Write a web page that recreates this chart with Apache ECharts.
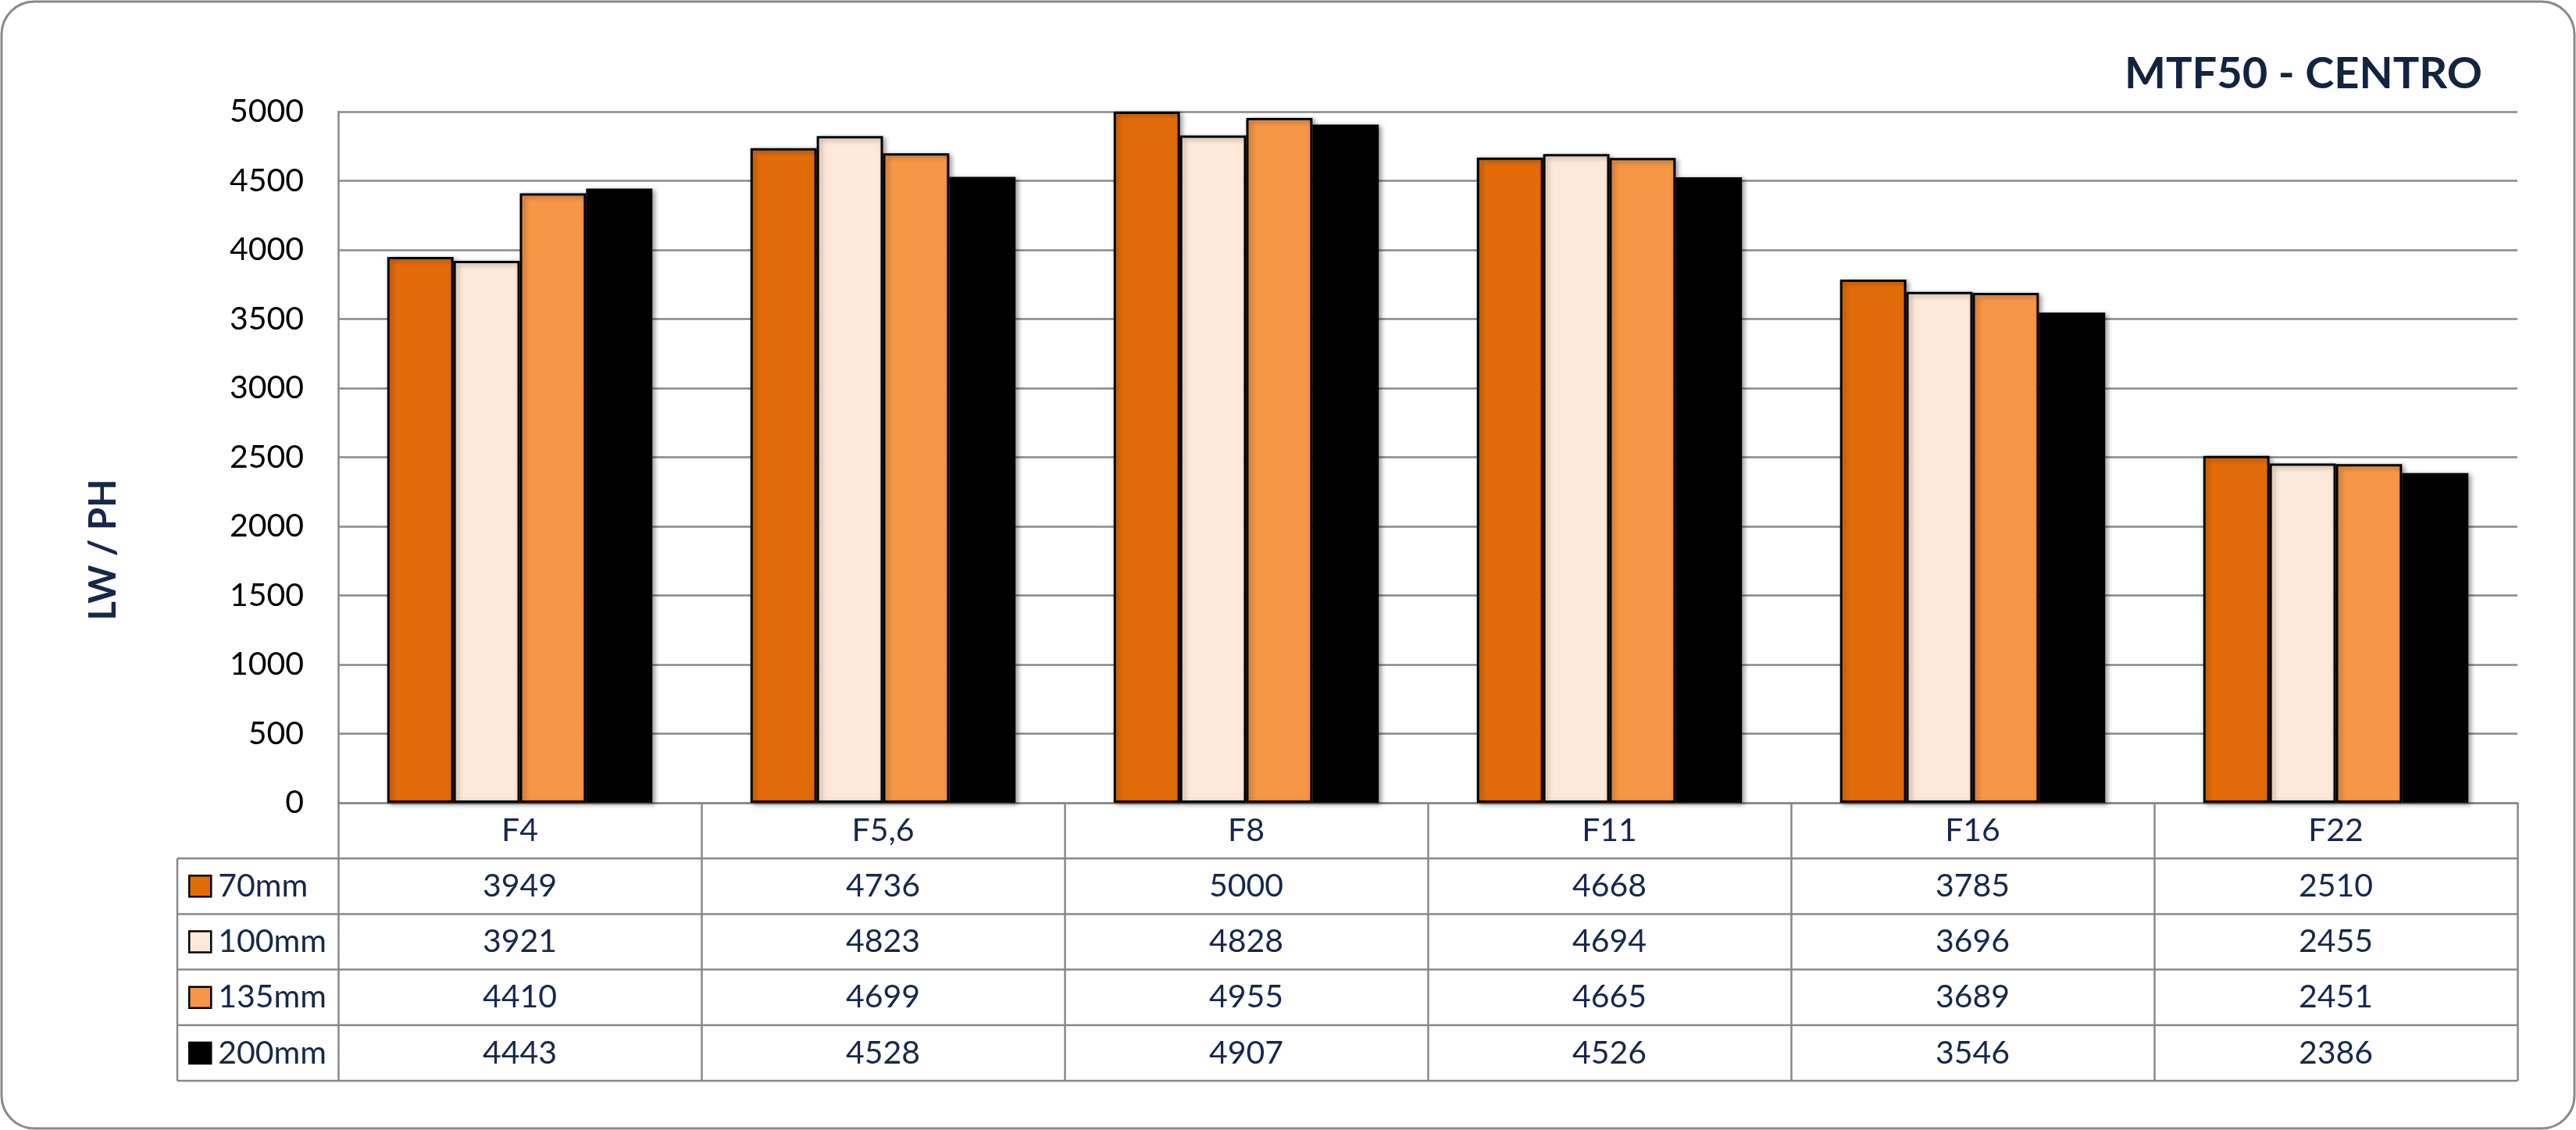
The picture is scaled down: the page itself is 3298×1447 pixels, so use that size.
<!DOCTYPE html>
<html><head><meta charset="utf-8">
<script src="https://cdn.jsdelivr.net/npm/echarts@6/dist/echarts.min.js"></script>
<style>html,body{margin:0;padding:0;background:#fff}#c{width:3298px;height:1447px}</style>
</head><body><div id="c"></div>
<script>
// ---- data ----
const categories = ['F4', 'F5,6', 'F8', 'F11', 'F16', 'F22'];
const seriesNames = ['70mm', '100mm', '135mm', '200mm'];
const v70mm  = [3949, 4736, 5000, 4668, 3785, 2510];
const v100mm = [3921, 4823, 4828, 4694, 3696, 2455];
const v135mm = [4410, 4699, 4955, 4665, 3689, 2451];
const v200mm = [4443, 4528, 4907, 4526, 3546, 2386];
const yMin = 0, yMax = 5000, yStep = 500;
const titleText = 'MTF50 - CENTRO';
const yName = 'LW / PH';

// ---- style / layout ----
const seriesValues = [v70mm, v100mm, v135mm, v200mm];
const colors = ['#E36C0A', '#FDE9D9', '#F79646', '#000000'];
const FONT = 'Lato, "Open Sans", sans-serif';
const NAVY = '#17284A';
const GRAY = '#898989';
const W = 3298, H = 1447;
const gLeft = 433, gRight = 3223, gTop = 143, gBottom = 1028;
const rowH = 71.2;
const legendLeft = 227;
const FS = 41;

const chart = echarts.init(document.getElementById('c'));

const option = {
  animation: false,
  backgroundColor: '#fff',
  title: {
    text: titleText, right: W - 3183, top: 62,
    textStyle: { fontFamily: FONT, fontWeight: 'bold', fontSize: 56, color: '#12243F' }
  },
  legend: {
    orient: 'vertical', left: 241, top: gBottom + rowH + (rowH - FS) / 2, padding: 0,
    itemWidth: 28, itemHeight: 27, itemGap: rowH - FS,
    icon: 'rect', selectedMode: false,
    itemStyle: { borderColor: '#000', borderWidth: 2.5 },
    textStyle: { fontFamily: FONT, fontSize: FS, color: NAVY, padding: [0, 0, 0, 4] },
    data: seriesNames
  },
  grid: { left: gLeft, right: W - gRight, top: gTop, bottom: H - gBottom, containLabel: false },
  xAxis: {
    type: 'category', data: categories,
    axisLine: { show: true, lineStyle: { color: GRAY, width: 2.5 } },
    axisTick: { show: true, interval: 0, length: rowH * 5, lineStyle: { color: GRAY, width: 2.5 } },
    axisLabel: { interval: 0, margin: rowH / 2, verticalAlign: 'middle', fontFamily: FONT, fontSize: FS, color: NAVY },
    splitLine: { show: false }
  },
  yAxis: {
    type: 'value', min: yMin, max: yMax, interval: yStep,
    axisLine: { show: true, lineStyle: { color: GRAY, width: 2.5 } },
    axisTick: { show: false },
    axisLabel: { margin: 44, fontFamily: FONT, fontSize: FS, color: '#000', formatter: v => String(v) },
    splitLine: { show: true, lineStyle: { color: GRAY, width: 2.5 } }
  },
  series: seriesNames.map((n, i) => ({
    name: n, type: 'bar', data: seriesValues[i],
    barGap: '0%', barCategoryGap: '27%',
    itemStyle: {
      color: colors[i], borderColor: '#000', borderWidth: 3,
      shadowColor: 'rgba(0,0,0,0.35)', shadowBlur: 6, shadowOffsetX: 3, shadowOffsetY: 2
    }
  }))
};
chart.setOption(option);

// ---- table and decorations, positioned from the chart's own axis ----
const graphics = [];
graphics.push({ type: 'rect', z: -10, silent: true,
  shape: { x: 2, y: 2, width: W - 4, height: H - 4, r: 42 },
  style: { fill: 'none', stroke: GRAY, lineWidth: 3 } });
graphics.push({ type: 'text', x: 133, y: 704, rotation: Math.PI / 2,
  style: { text: yName, fontFamily: FONT, fontWeight: 'bold', fontSize: 47, fill: NAVY, align: 'center', verticalAlign: 'middle' } });
for (let k = 1; k <= 5; k++) {
  const y = gBottom + rowH * k;
  graphics.push({ type: 'line', shape: { x1: legendLeft, y1: y, x2: gRight, y2: y }, style: { stroke: GRAY, lineWidth: 2.5 } });
}
graphics.push({ type: 'line', shape: { x1: legendLeft, y1: gBottom + rowH, x2: legendLeft, y2: gBottom + rowH * 5 }, style: { stroke: GRAY, lineWidth: 2.5 } });
seriesValues.forEach((vals, r) => {
  const y = gBottom + rowH * (r + 1.5);
  vals.forEach((v, c) => {
    const x = chart.convertToPixel({ xAxisIndex: 0 }, categories[c]);
    graphics.push({ type: 'text', x: x, y: y,
      style: { text: String(v), fontFamily: FONT, fontSize: FS, fill: NAVY, align: 'center', verticalAlign: 'middle' } });
  });
});
chart.setOption({ graphic: graphics });
</script>
</body></html>
